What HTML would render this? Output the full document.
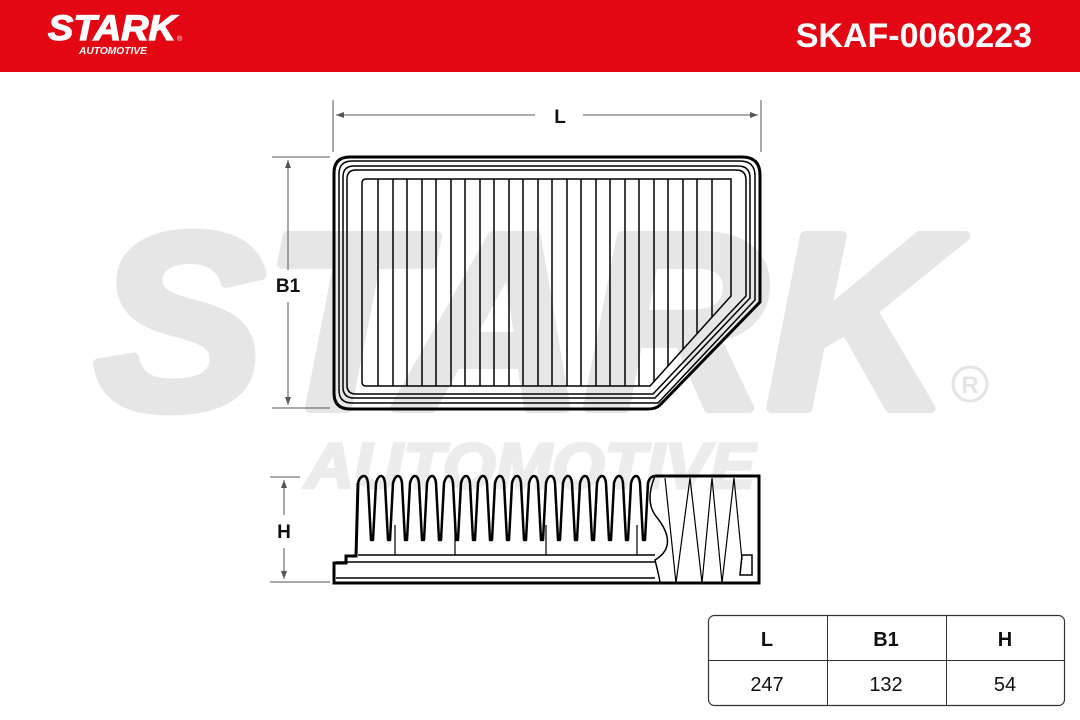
<!DOCTYPE html>
<html><head><meta charset="utf-8"><style>
html,body{margin:0;padding:0;background:#fff;}
svg{display:block;font-family:"Liberation Sans",sans-serif;}
</style></head><body>
<svg width="1080" height="720" viewBox="0 0 1080 720" xmlns="http://www.w3.org/2000/svg">
<rect x="0" y="0" width="1080" height="72" fill="#e30613"/>
<text x="48" y="40" fill="#fff" stroke="#fff" stroke-width="1.2" font-size="35" font-weight="bold" font-style="italic" textLength="128" lengthAdjust="spacingAndGlyphs">STARK</text>
<text x="177" y="41" fill="#fff" font-size="7">®</text>
<text x="79" y="54" fill="#fff" font-size="10" font-weight="bold" font-style="italic" textLength="68" lengthAdjust="spacingAndGlyphs">AUTOMOTIVE</text>
<text x="1032" y="47" fill="#fff" font-size="34" font-weight="bold" text-anchor="end">SKAF-0060223</text>
<!-- watermark -->
<text x="95" y="408" fill="#e6e6e6" stroke="#e6e6e6" stroke-width="10" stroke-linejoin="round" font-size="250" font-weight="bold" font-style="italic" textLength="855" lengthAdjust="spacingAndGlyphs">STARK</text>
<text x="305" y="488" fill="#ececec" stroke="#ececec" stroke-width="3" font-size="64" font-weight="bold" font-style="italic" textLength="450" lengthAdjust="spacingAndGlyphs">AUTOMOTIVE</text>
<circle cx="970" cy="384" r="17" fill="none" stroke="#e4e4e4" stroke-width="3"/>
<text x="970" y="393" fill="#e4e4e4" font-size="24" font-weight="bold" text-anchor="middle">R</text>
<!-- dimensions -->
<g stroke="#555" stroke-width="1" fill="none">
<line x1="333" y1="100" x2="333" y2="152"/><line x1="761" y1="100" x2="761" y2="152"/>
<line x1="336" y1="115" x2="535" y2="115"/><line x1="583" y1="115" x2="758" y2="115"/>
<line x1="272" y1="157" x2="330" y2="157"/><line x1="272" y1="408" x2="330" y2="408"/>
<line x1="288" y1="160" x2="288" y2="270"/><line x1="288" y1="302" x2="288" y2="405"/>
<line x1="270" y1="477" x2="300" y2="477"/><line x1="270" y1="582" x2="330" y2="582"/>
<line x1="284" y1="480" x2="284" y2="515"/><line x1="284" y1="548" x2="284" y2="579"/>
</g>
<g fill="#555"><path d="M336 115 l8 -3 v6z"/><path d="M758 115 l-8 -3 v6z"/>
<path d="M288 160 l-3 8 h6z"/><path d="M288 405 l-3 -8 h6z"/>
<path d="M284 480 l-3 8 h6z"/><path d="M284 579 l-3 -8 h6z"/></g>
<g font-size="19" font-weight="bold" fill="#111" text-anchor="middle">
<text x="560" y="123">L</text><text x="288" y="292">B1</text><text x="284" y="538">H</text></g>
<!-- top view -->
<g fill="none" stroke="#000">
<path d="M350 157 H742 Q760 157 760 175 V302 L660 405 Q656 409 648 409 H350 Q334 409 334 393 V173 Q334 157 350 157Z" stroke-width="3"/>
<path d="M352 161 H740 Q755 161 755 176 V300 L658 403 H352 Q339 403 339 390 V174 Q339 161 352 161Z" stroke-width="1.5"/>
<path d="M354 166 H738 Q750 166 750 178 V298 L655 398 H354 Q343 398 343 387 V177 Q343 166 354 166Z" stroke-width="1.5"/>
<path d="M356 170 H736 Q746 170 746 180 V296 L653 394 H356 Q347 394 347 385 V179 Q347 170 356 170Z" stroke-width="1.5"/>
<path d="M366 179 H731 V296 L650 386 H366 Q362 386 362 382 V183 Q362 179 366 179Z" stroke-width="1.5"/>
</g>
<g stroke="#000" stroke-width="1.5">
<line x1="378" y1="179" x2="378" y2="386"/><line x1="393" y1="179" x2="393" y2="386"/><line x1="407" y1="179" x2="407" y2="386"/><line x1="422" y1="179" x2="422" y2="386"/><line x1="436" y1="179" x2="436" y2="386"/><line x1="451" y1="179" x2="451" y2="386"/><line x1="465" y1="179" x2="465" y2="386"/><line x1="480" y1="179" x2="480" y2="386"/><line x1="494" y1="179" x2="494" y2="386"/><line x1="509" y1="179" x2="509" y2="386"/><line x1="523" y1="179" x2="523" y2="386"/><line x1="538" y1="179" x2="538" y2="386"/><line x1="552" y1="179" x2="552" y2="386"/><line x1="567" y1="179" x2="567" y2="386"/><line x1="581" y1="179" x2="581" y2="386"/><line x1="596" y1="179" x2="596" y2="386"/><line x1="610" y1="179" x2="610" y2="386"/><line x1="625" y1="179" x2="625" y2="386"/><line x1="639" y1="179" x2="639" y2="386"/><line x1="654" y1="179" x2="654" y2="382"/><line x1="668" y1="179" x2="668" y2="366"/><line x1="683" y1="179" x2="683" y2="349"/><line x1="697" y1="179" x2="697" y2="333"/><line x1="712" y1="179" x2="712" y2="317"/>
</g>
<!-- side view -->
<g fill="none" stroke="#000">
<path d="M655 476 H759 V583 H334 V563 H346 V556 H356 L358 483" stroke-width="3"/>
<line x1="336" y1="562" x2="655" y2="562" stroke-width="1.5"/>
<line x1="336" y1="578" x2="655" y2="578" stroke-width="1.5"/>
<path d="M358 555 H655" stroke-width="1.5"/>
<path d="M655 476 Q645 500 655 515 Q680 545 655 560 Q660 580 660 583" stroke-width="1.5"/>
<path d="M665 478 L676 583 L690 478 L702 583 L712 478 L722 583 L734 478 L742 560" stroke-width="1.2"/>
<path d="M742 555 h10 v20 h-12z" stroke-width="1.5"/>
<path stroke-width="2.5" stroke-linejoin="round" d="M358 483 Q360 476 364 476 Q367 476 368 483 L371 540 L373 540 L376 483 Q378 476 381 476 Q384 476 385 483 L388 540 L390 540 L393 483 Q395 476 398 476 Q401 476 402 483 L405 540 L407 540 L410 483 Q412 476 415 476 Q418 476 419 483 L422 540 L424 540 L427 483 Q429 476 432 476 Q435 476 436 483 L439 540 L441 540 L444 483 Q446 476 449 476 Q452 476 453 483 L456 540 L458 540 L461 483 Q463 476 466 476 Q469 476 470 483 L473 540 L475 540 L478 483 Q480 476 483 476 Q486 476 487 483 L490 540 L492 540 L495 483 Q497 476 500 476 Q503 476 504 483 L507 540 L509 540 L512 483 Q514 476 517 476 Q520 476 521 483 L524 540 L526 540 L529 483 Q531 476 534 476 Q537 476 538 483 L541 540 L543 540 L546 483 Q548 476 551 476 Q554 476 555 483 L558 540 L560 540 L563 483 Q565 476 568 476 Q571 476 572 483 L575 540 L577 540 L580 483 Q582 476 585 476 Q588 476 589 483 L592 540 L594 540 L597 483 Q599 476 602 476 Q605 476 606 483 L609 540 L611 540 L614 483 Q616 476 619 476 Q622 476 623 483 L626 540 L628 540 L631 483 Q633 476 636 476 Q639 476 640 483 L643 540 L645 540 L648 483 Q650 476 655 476"/>
</g>
<g stroke="#000" stroke-width="1.2"><line x1="395" y1="525" x2="395" y2="555"/><line x1="455" y1="525" x2="455" y2="555"/><line x1="546" y1="525" x2="546" y2="555"/><line x1="637" y1="525" x2="637" y2="555"/></g>
<!-- table -->
<rect x="708.5" y="615.5" width="356" height="90" rx="6" fill="#fff" stroke="#333" stroke-width="1.2"/>
<g stroke="#333" stroke-width="1"><line x1="708" y1="660.5" x2="1064" y2="660.5"/><line x1="827.5" y1="615" x2="827.5" y2="705"/><line x1="946.5" y1="615" x2="946.5" y2="705"/></g>
<g text-anchor="middle" fill="#111" font-size="20">
<text x="767" y="646" font-weight="bold">L</text><text x="886" y="646" font-weight="bold">B1</text><text x="1005" y="646" font-weight="bold">H</text>
<text x="767" y="691">247</text><text x="886" y="691">132</text><text x="1005" y="691">54</text></g>
</svg>
</body></html>
